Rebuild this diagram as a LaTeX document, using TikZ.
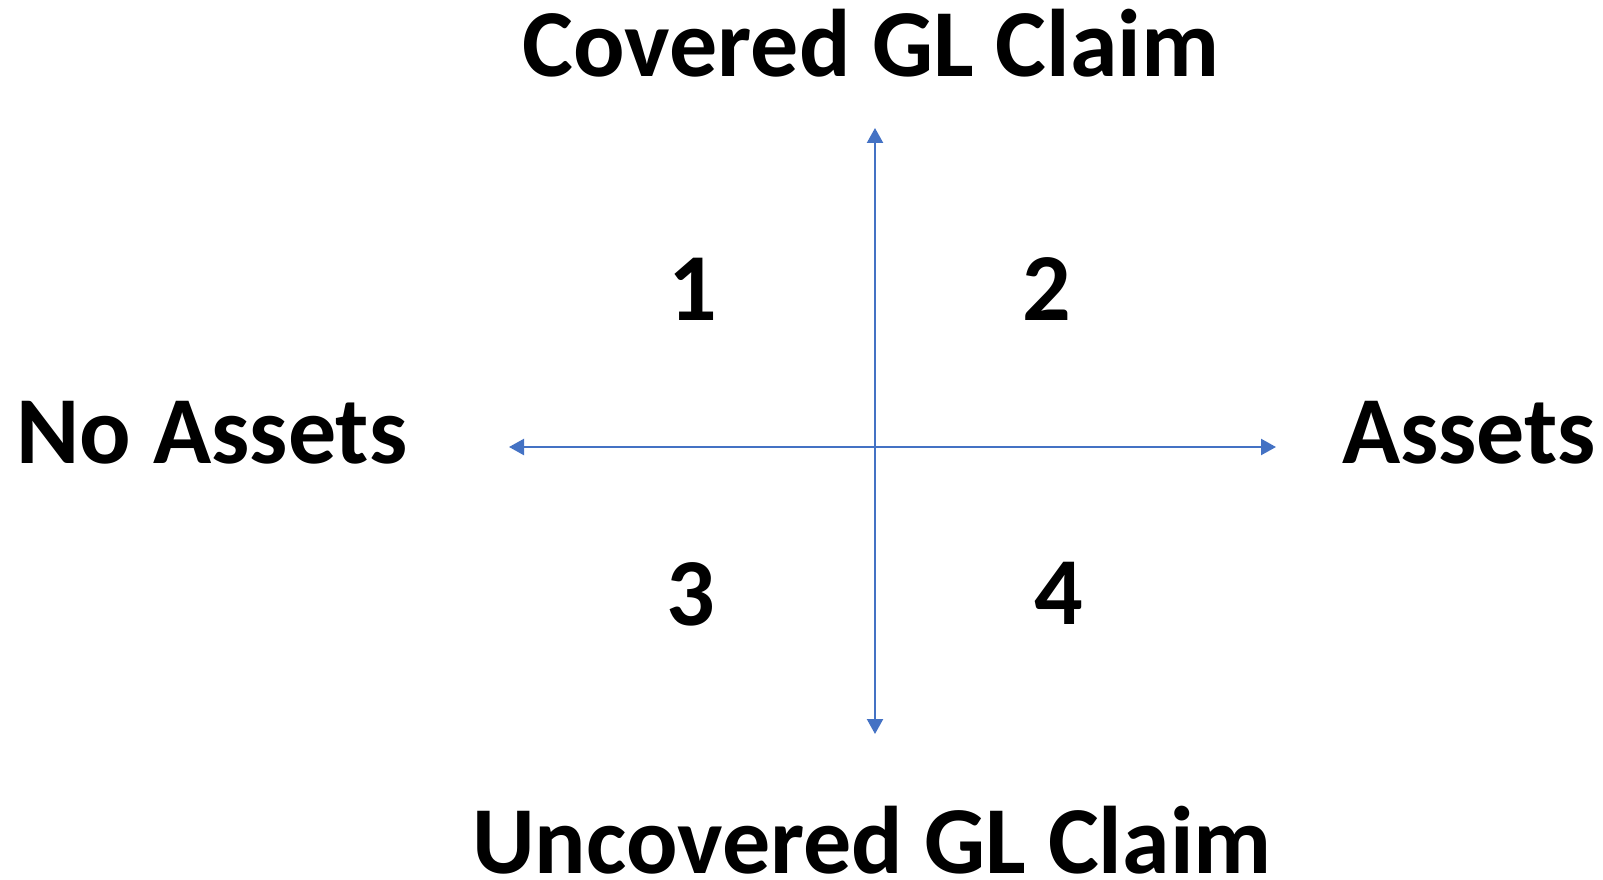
\documentclass[tikz,border=0pt]{standalone}
\usepackage{fontspec}
\setmainfont{Carlito}
\usetikzlibrary{arrows.meta}
\definecolor{axisblue}{RGB}{68,114,196}
\begin{document}
\begin{tikzpicture}[x=1pt,y=-1pt,
    lbl/.style={anchor=base,inner sep=0pt,font=\fontsize{96}{115}\selectfont\bfseries},
    axis/.style={axisblue,line width=2.3pt,{Triangle[length=15pt,width=16pt]}-{Triangle[length=15pt,width=16pt]}}]
  \useasboundingbox (0,0) rectangle (1603,880);
  % axis ends
  \coordinate (top) at (875,128);
  \coordinate (bottom) at (875,734);
  \coordinate (left) at (509,447);
  \coordinate (right) at (1276,447);
  \draw[axis] (left) -- (right);
  \draw[axis] (bottom) -- (top);
  % labels
  \node[lbl] (covered) at (871,77) {Covered GL Claim};
  \node[lbl] (uncovered) at (872,873) {Uncovered GL Claim};
  \node[lbl] (noassets) at (212,463) {No Assets};
  \node[lbl] (assets) at (1469,463) {Assets};
  % quadrants
  \node[lbl] (q1) at (693,320) {1};
  \node[lbl] (q2) at (1047,320) {2};
  \node[lbl] (q3) at (691,625) {3};
  \node[lbl] (q4) at (1059,624) {4};
\end{tikzpicture}
\end{document}
